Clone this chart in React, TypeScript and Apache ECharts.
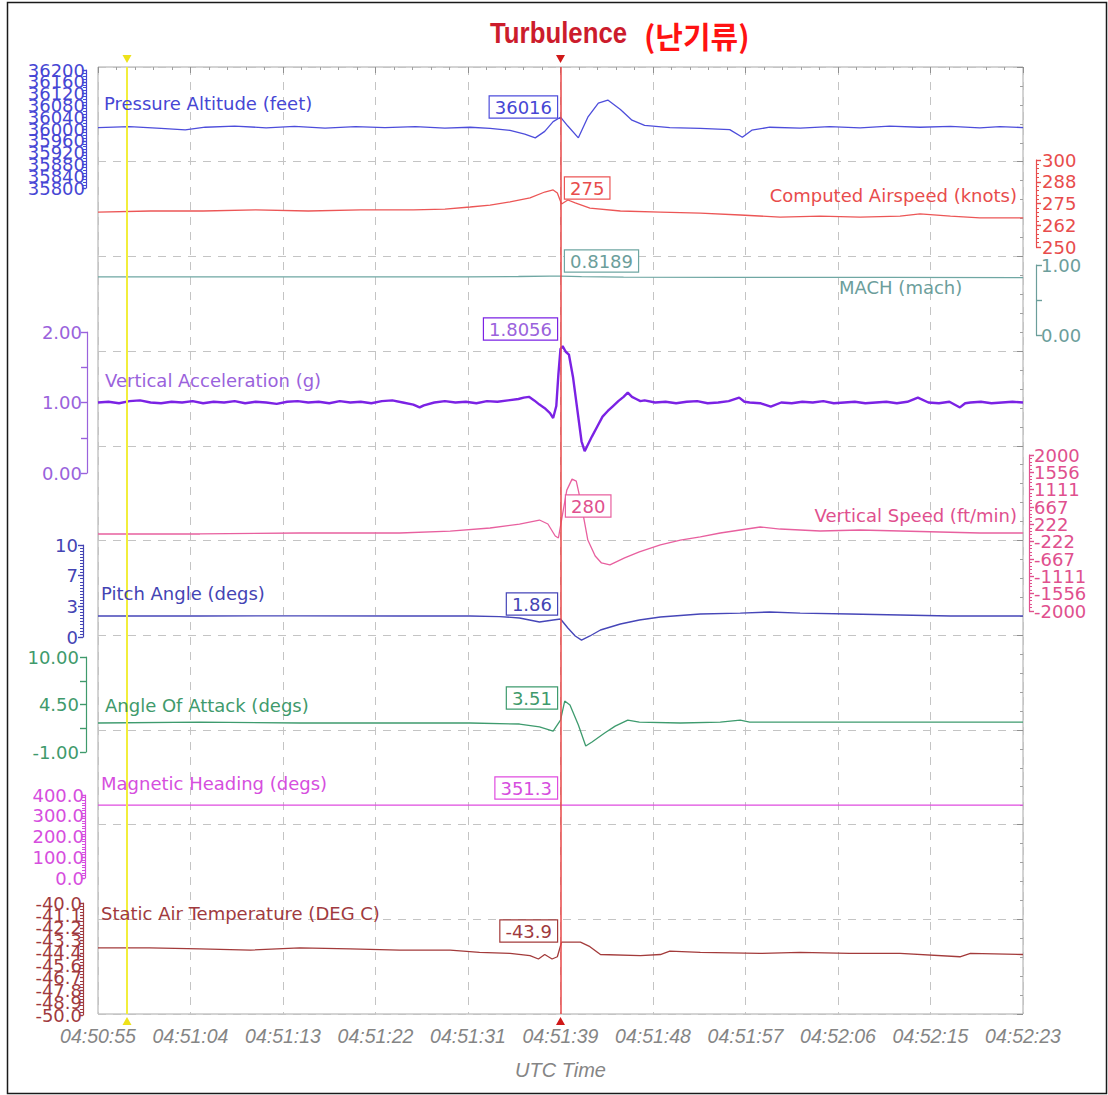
import React, { useEffect, useRef } from "react";
import * as echarts from "echarts";

// ---------- time axis ----------
const TIME_LABELS = ["04:50:55", "04:51:04", "04:51:13", "04:51:22", "04:51:31", "04:51:39", "04:51:48", "04:51:57", "04:52:06", "04:52:15", "04:52:23"];
const T_MAX = 88;
const T_STEP = 8.8;
const CURSOR_T = 44;
const MARKER_T = 2.76;

// ---------- tick labels ----------
const altTicks = ["35800", "35840", "35880", "35920", "35960", "36000", "36040", "36080", "36120", "36160", "36200"];
const casTicks = ["250", "262", "275", "288", "300"];
const machTicks = ["0.00", "", "1.00"];
const accTicks = ["0.00", "", "1.00", "", "2.00"];
const vsTicks = ["-2000", "-1556", "-1111", "-667", "-222", "222", "667", "1111", "1556", "2000"];
const pitchTicks = ["0", "3", "7", "10"];
const aoaTicks = ["-1.00", "", "4.50", "", "10.00"];
const hdgTicks = ["0.0", "100.0", "200.0", "300.0", "400.0"];
const satTicks = ["-50.0", "-48.9", "-47.8", "-46.7", "-45.6", "-44.4", "-43.3", "-42.2", "-41.1", "-40.0"];

// ---------- series data (time in s from 04:50:55) ----------
const altT = [0, 3, 6, 8.3, 10.2, 13, 16, 18.7, 21.6, 24.5, 27.3, 30.2, 33, 35.4, 37.3, 39.2, 40.6, 41.6, 42.5, 43.3, 44, 44.7, 45.7, 46.6, 47.6, 48.5, 49.7, 50.8, 52, 54.4, 57.3, 60.1, 61.3, 62.2, 63.9, 66.8, 69.6, 72.5, 75.3, 78.2, 81.1, 83.9, 85.8, 88];
const altV = [36005, 36008, 36002, 35997, 36006, 36010, 36004, 36009, 36003, 36008, 36005, 36008, 36003, 36006, 36002, 35995, 35983, 35970, 35992, 36025, 36040, 36010, 35970, 36040, 36088, 36098, 36066, 36030, 36012, 36005, 36002, 35998, 35972, 35996, 36006, 36003, 36008, 36004, 36010, 36006, 36009, 36004, 36008, 36005];

const casT = [0, 5, 10, 15, 20, 25, 30, 33, 35.4, 37.3, 39.2, 41.1, 42.5, 43.3, 43.7, 44.1, 44.7, 45.4, 46.8, 49.7, 53.5, 57.3, 61.1, 64.9, 68.7, 72.5, 76.3, 78.2, 81.1, 83.9, 88];
const casV = [270.1, 270.7, 270.7, 271.3, 270.7, 271.3, 271.3, 271.8, 273.0, 274.1, 275.9, 278.2, 281.6, 282.8, 281.0, 274.7, 277.0, 275.3, 272.4, 270.7, 270.1, 269.5, 268.4, 267.2, 267.8, 267.2, 267.8, 269.0, 267.8, 266.7, 266.7];

const machT = [0, 20, 35, 40, 43, 44, 46, 50, 60, 75, 88];
const machV = [0.829, 0.83, 0.831, 0.836, 0.842, 0.84, 0.833, 0.828, 0.824, 0.822, 0.82];

const accT = [0, 1, 2, 3, 4, 5, 6, 7, 8, 9, 10, 11, 12, 13, 14, 15, 16, 17, 18, 19, 20, 21, 22, 23, 24, 25, 26, 27, 28, 29, 30, 30.6, 31, 32, 33, 34, 35, 36, 37, 38, 39, 40,
  40.5, 41, 41.5, 42, 42.5, 43, 43.3, 43.6, 43.8, 44, 44.2, 44.5, 44.8, 45.2, 45.6, 46, 46.3, 46.6, 47, 47.5, 48, 48.5, 49, 49.5, 50, 50.4, 50.8, 51.2, 51.6, 52,
  53, 54, 55, 56, 57, 58, 59, 60, 61, 61.5, 62, 63, 64, 65, 66, 67, 68, 69, 70, 71, 72, 73, 74, 75, 76, 77, 78, 79, 80, 81, 82, 82.5, 83, 84, 85, 86, 87, 88];
const accV = [1.0, 1.01, 0.99, 1.02, 1.03, 1.0, 0.99, 1.01, 1.0, 1.02, 0.99, 1.01, 1.0, 1.02, 0.99, 1.01, 1.0, 0.98, 1.01, 1.02, 1.0, 1.01, 0.99, 1.02, 1.0, 1.01, 0.99, 1.02, 1.03, 1.0, 0.97, 0.93, 0.96, 1.0, 1.02, 1.0, 1.01, 0.99, 1.02, 1.01, 1.03, 1.05,
  1.07, 1.08, 1.03, 0.97, 0.92, 0.85, 0.78, 0.95, 1.4, 1.76, 1.8, 1.72, 1.68, 1.35, 0.9, 0.45, 0.31, 0.4, 0.52, 0.66, 0.8, 0.88, 0.95, 1.02, 1.08, 1.14, 1.08, 1.05, 1.02, 1.03,
  1.0, 1.01, 0.99, 1.01, 1.02, 0.99, 1.0, 1.02, 1.07, 1.01, 1.0, 0.99, 0.94, 1.0, 0.99, 1.01, 1.0, 1.02, 0.99, 1.0, 1.01, 0.99, 1.0, 1.01, 0.99, 1.01, 1.07, 1.0, 0.99, 1.01, 0.93, 0.99, 1.0, 1.01, 0.99, 1.0, 1.01, 1.0];

const vsT = [0, 9.7, 19.2, 28.7, 33.5, 37.3, 40.1, 42, 42.8, 43.5, 43.8, 44.1, 44.6, 45.1, 45.5, 45.9, 46.6, 47.3, 47.9, 48.7, 50.1, 51.5, 53.5, 55.4, 57.3, 59.2, 61.1, 63, 64.9, 68.7, 72.5, 76.3, 80.1, 83.9, 88];
const vsV = [-25, -25, 0, 0, 50, 128, 230, 333, 230, -77, -128, 333, 1100, 1382, 1330, 845, -180, -589, -768, -819, -640, -486, -307, -180, -102, 0, 77, 154, 102, 51, 77, 51, 26, 0, 0];

const pitchT = [0, 9.7, 19.2, 28.7, 35.4, 38.2, 40.1, 42, 43.3, 44, 44.7, 45.4, 46, 46.8, 47.8, 49.7, 51.5, 53.5, 57.3, 61.1, 63.9, 66.8, 71.5, 76.3, 81.1, 88];
const pitchV = [2.28, 2.28, 2.3, 2.28, 2.28, 2.22, 2.07, 1.63, 1.85, 1.96, 0.98, 0.11, -0.33, 0.11, 0.76, 1.41, 1.85, 2.17, 2.5, 2.6, 2.72, 2.6, 2.5, 2.39, 2.28, 2.28];

const aoaT = [0, 9.7, 19.2, 28.7, 35.4, 40.1, 42, 43.3, 44, 44.4, 44.9, 45.7, 46.4, 47, 48.2, 49.2, 50.4, 51.5, 55.4, 59.2, 61.1, 62, 66.8, 76.3, 88];
const aoaV = [2.36, 2.47, 2.36, 2.36, 2.36, 2.24, 1.9, 1.43, 2.7, 4.9, 4.44, 2.13, -0.31, 0.16, 1.2, 2.0, 2.7, 2.47, 2.36, 2.47, 2.7, 2.47, 2.47, 2.47, 2.47];

const hdgT = [0, 30, 44, 60, 88];
const hdgV = [351.4, 351.3, 351.3, 351.3, 351.2];

const satT = [0, 4.9, 9.7, 14.5, 19.2, 24, 28.7, 33.5, 36.3, 39.2, 41.1, 41.9, 42.5, 43.2, 43.7, 44.1, 45.9, 46.8, 47.8, 51.6, 53.5, 54.4, 57.3, 63, 66.8, 71.5, 76.3, 82, 83, 88];
const satV = [-44.0, -44.0, -44.1, -44.2, -44.0, -44.1, -44.2, -44.2, -44.4, -44.5, -44.7, -45.0, -44.6, -45.0, -44.8, -43.5, -43.5, -43.9, -44.6, -44.7, -44.6, -44.3, -44.4, -44.5, -44.4, -44.5, -44.5, -44.8, -44.5, -44.6];

// cursor readouts at the turbulence cursor
const readouts = ["36016", "275", "0.8189", "1.8056", "280", "1.86", "3.51", "351.3", "-43.9"];
const seriesNames = ["Pressure Altitude (feet)", "Computed Airspeed (knots)", "MACH (mach)", "Vertical Acceleration (g)", "Vertical Speed (ft/min)", "Pitch Angle (degs)", "Angle Of Attack (degs)", "Magnetic Heading (degs)", "Static Air Temperature (DEG C)"];

// ---------- layout / style ----------
const W = 1108;
const H = 1095;
const LEFT = 98;
const RIGHT = W - 1023;
const TOP = 67;
const BOTTOM = H - 1014;
const FONT = "'DejaVu Sans', Verdana, sans-serif";

type Panel = {
  t: number[]; v: number[]; ticks: string[]; min: number; max: number; interval: number; minor: number;
  side: "left" | "right"; offset: number; tickLen: number; margin: number; top: number; height: number; line: string; text: string; width: number;
  nameX: number; nameY: number; nameAlign: "left" | "right"; boxX: number; boxY: number; boxAlign: "left" | "right";
};

const PANELS: Panel[] = [
  { t: altT, v: altV, ticks: altTicks, min: 35800, max: 36200, interval: 40, minor: 4, side: "left", offset: 12, tickLen: 4, margin: 1, top: 70, height: 118, line: "#4d4ddb", text: "#4646d4", width: 1.3, nameX: 104, nameY: 103, nameAlign: "left", boxX: 557, boxY: 107, boxAlign: "right" },
  { t: casT, v: casV, ticks: casTicks, min: 250, max: 300, interval: 12.5, minor: 5, side: "right", offset: 13, tickLen: 5, margin: 6, top: 160, height: 87, line: "#ec5656", text: "#e84c4c", width: 1.3, nameX: 1017, nameY: 195, nameAlign: "right", boxX: 565, boxY: 188, boxAlign: "left" },
  { t: machT, v: machV, ticks: machTicks, min: 0, max: 1, interval: 0.5, minor: 0, side: "right", offset: 13, tickLen: 6, margin: 5, top: 265, height: 70, line: "#6fa7a3", text: "#6c9e9b", width: 1.3, nameX: 839, nameY: 287, nameAlign: "left", boxX: 565, boxY: 261, boxAlign: "left" },
  { t: accT, v: accV, ticks: accTicks, min: 0, max: 2, interval: 0.5, minor: 0, side: "left", offset: 11, tickLen: 6, margin: 5, top: 332, height: 141, line: "#7b22e4", text: "#9a62dc", width: 2.4, nameX: 105, nameY: 380, nameAlign: "left", boxX: 557, boxY: 329, boxAlign: "right" },
  { t: vsT, v: vsV, ticks: vsTicks, min: -2000, max: 2000, interval: 4000 / 9, minor: 5, side: "right", offset: 6, tickLen: 5, margin: 5, top: 455, height: 156, line: "#e8609f", text: "#e0508e", width: 1.3, nameX: 1017, nameY: 515, nameAlign: "right", boxX: 566, boxY: 506, boxAlign: "left" },
  { t: pitchT, v: pitchV, ticks: pitchTicks, min: 0, max: 10, interval: 10 / 3, minor: 10, side: "left", offset: 15, tickLen: 5, margin: 5, top: 545, height: 92, line: "#4646b8", text: "#4444b4", width: 1.4, nameX: 101, nameY: 593, nameAlign: "left", boxX: 557, boxY: 604, boxAlign: "right" },
  { t: aoaT, v: aoaV, ticks: aoaTicks, min: -1, max: 10, interval: 2.75, minor: 0, side: "left", offset: 12, tickLen: 6, margin: 7, top: 657, height: 95, line: "#3e9b6e", text: "#3f9a6c", width: 1.3, nameX: 105, nameY: 705, nameAlign: "left", boxX: 557, boxY: 698, boxAlign: "right" },
  { t: hdgT, v: hdgV, ticks: hdgTicks, min: 0, max: 400, interval: 100, minor: 8, side: "left", offset: 13, tickLen: 3, margin: 1, top: 795, height: 83, line: "#e04ce0", text: "#d64ede", width: 1.3, nameX: 101, nameY: 783, nameAlign: "left", boxX: 557, boxY: 788, boxAlign: "right" },
  { t: satT, v: satV, ticks: satTicks, min: -50, max: -40, interval: 10 / 9, minor: 4, side: "left", offset: 15, tickLen: 3, margin: 1, top: 903, height: 112, line: "#a33b3b", text: "#a03a3e", width: 1.3, nameX: 101, nameY: 913, nameAlign: "left", boxX: 557, boxY: 931, boxAlign: "right" },
];

function buildOption() {
  const gridDash = { color: "#c4c4c4", width: 1, type: [8, 7] as number[] };
  const grids: any[] = [{ left: LEFT, right: RIGHT, top: TOP, bottom: BOTTOM, show: true, borderColor: "#a8a8a8", borderWidth: 1, backgroundColor: "transparent" }];
  const xAxes: any[] = [
    {
      gridIndex: 0, type: "value", position: "bottom", min: 0, max: T_MAX, interval: T_STEP,
      axisLine: { show: false, onZero: false }, axisTick: { show: false },
      axisLabel: {
        color: "#858585", fontStyle: "italic", fontFamily: "'Liberation Sans', Arial, sans-serif", fontSize: 19.5, margin: 12,
        showMinLabel: true, showMaxLabel: true,
        formatter: (v: number) => TIME_LABELS[Math.round(v / T_STEP)] ?? "",
      },
      splitLine: { show: true, lineStyle: gridDash },
      name: "UTC Time", nameLocation: "middle", nameGap: 46,
      nameTextStyle: { color: "#858585", fontStyle: "italic", fontFamily: "'Liberation Sans', Arial, sans-serif", fontSize: 20 },
    },
    {
      gridIndex: 0, type: "value", position: "top", min: 0, max: T_MAX, interval: T_STEP,
      axisLine: { show: false, onZero: false },
      axisTick: { show: true, inside: true, length: 6, lineStyle: { color: "#909090" } },
      minorTick: { show: true, splitNumber: 5, length: 3, lineStyle: { color: "#a0a0a0" } },
      axisLabel: { show: false }, splitLine: { show: false },
    },
  ];
  const yAxes: any[] = [
    {
      gridIndex: 0, type: "value", min: 0, max: 10, interval: 1, position: "left",
      axisLine: { show: false, onZero: false }, axisTick: { show: false }, axisLabel: { show: false },
      splitLine: { show: true, lineStyle: gridDash },
    },
    {
      gridIndex: 0, type: "value", min: 0, max: 10, interval: 1, position: "right",
      axisLine: { show: false, onZero: false },
      axisTick: { show: true, inside: true, length: 6, lineStyle: { color: "#909090" } },
      minorTick: { show: true, splitNumber: 5, length: 3, lineStyle: { color: "#a0a0a0" } },
      axisLabel: { show: false }, splitLine: { show: false },
    },
  ];
  const series: any[] = [
    {
      type: "line", xAxisIndex: 0, yAxisIndex: 0, data: [], silent: true, z: 6,
      markLine: {
        symbol: "none", silent: true, animation: false, label: { show: false },
        data: [
          { xAxis: CURSOR_T, lineStyle: { color: "#e84848", width: 1.5, type: "solid" } },
          { xAxis: MARKER_T, lineStyle: { color: "#f2ee3c", width: 2, type: "solid" } },
        ],
      },
      markPoint: {
        silent: true, animation: false, label: { show: false },
        data: [
          { coord: [CURSOR_T, 10], symbol: "triangle", symbolSize: [9, 8], symbolRotate: 180, symbolOffset: [0, -8], itemStyle: { color: "#d01818" } },
          { coord: [CURSOR_T, 0], symbol: "triangle", symbolSize: [9, 8], symbolOffset: [0, 7], itemStyle: { color: "#d01818" } },
          { coord: [MARKER_T, 10], symbol: "triangle", symbolSize: [9, 8], symbolRotate: 180, symbolOffset: [0, -8], itemStyle: { color: "#eee21a" } },
          { coord: [MARKER_T, 0], symbol: "triangle", symbolSize: [9, 8], symbolOffset: [0, 7], itemStyle: { color: "#eee21a" } },
        ],
      },
    },
  ];
  const graphics: any[] = [
    { type: "rect", shape: { x: 7.5, y: 2.5, width: W - 9, height: H - 4 }, style: { fill: "none", stroke: "#1a1a1a", lineWidth: 1.5 }, silent: true, z: 0 },
    { type: "text", x: 490, y: 33, scaleX: 0.86, style: { text: "Turbulence", fill: "#cc1c2c", font: "bold 30px 'Liberation Sans', Arial, sans-serif", verticalAlign: "middle", align: "left" }, z: 50 },
    { type: "text", x: 644, y: 35, style: { text: "(난기류)", fill: "#ff1212", font: "bold 30px 'Noto Sans CJK KR', sans-serif", verticalAlign: "middle", align: "left" }, z: 50 },
  ];

  PANELS.forEach((p, i) => {
    const gi = i + 1;
    const xi = xAxes.length;
    grids.push({ left: LEFT, right: RIGHT, top: p.top, height: p.height, show: false });
    xAxes.push({ gridIndex: gi, type: "value", min: 0, max: T_MAX, show: false, axisLine: { onZero: false } });
    const labelFor = (parity: number) => (v: number) => {
      const k = Math.round((v - p.min) / p.interval);
      return k % 2 === parity ? p.ticks[k] ?? "" : "";
    };
    const baseLabel = { color: p.text, fontSize: 18, fontFamily: FONT, margin: p.margin, showMinLabel: true, showMaxLabel: true, hideOverlap: false };
    const tick = { show: true, length: p.tickLen, lineStyle: { color: p.text, width: 1.2 } };
    const yi = yAxes.length;
    // main axis: line, ticks and the even-indexed labels
    yAxes.push({
      gridIndex: gi, type: "value", position: p.side, offset: p.offset, min: p.min, max: p.max, interval: p.interval,
      axisLine: { show: true, onZero: false, lineStyle: { color: p.text, width: 1.2 } },
      axisTick: tick,
      minorTick: { show: p.minor > 0, splitNumber: p.minor || 5, length: 3, lineStyle: { color: p.text } },
      axisLabel: { ...baseLabel, formatter: labelFor(0) },
      splitLine: { show: false }, minorSplitLine: { show: false },
    });
    // companion axis: odd-indexed labels only (so crowded labels all stay visible)
    yAxes.push({
      gridIndex: gi, type: "value", position: p.side, offset: p.offset, min: p.min, max: p.max, interval: p.interval,
      axisLine: { show: false, onZero: false },
      axisTick: tick,
      axisLabel: { ...baseLabel, formatter: labelFor(1) },
      splitLine: { show: false },
    });
    series.push({
      type: "line", xAxisIndex: xi, yAxisIndex: yi, silent: true, clip: false,
      showSymbol: false, symbol: "none", z: 3,
      lineStyle: { color: p.line, width: p.width },
      data: p.t.map((tt, j) => [tt, p.v[j]]),
    });
    graphics.push({
      type: "text", x: p.nameX, y: p.nameY, z: 40,
      style: { text: seriesNames[i], fill: p.text, font: `18px ${FONT}`, align: p.nameAlign, verticalAlign: "middle" },
    });
    graphics.push({
      type: "text", x: p.boxX, y: p.boxY, z: 60,
      style: {
        text: readouts[i], fill: p.text, font: `18px ${FONT}`, align: p.boxAlign, verticalAlign: "middle",
        backgroundColor: "#ffffff", borderColor: p.line, borderWidth: 1.2, padding: [2, 5, 1, 5],
      },
    });
  });

  return {
    animation: false,
    backgroundColor: "#ffffff",
    grid: grids,
    xAxis: xAxes,
    yAxis: yAxes,
    series,
    graphic: graphics,
  };
}

export default function App() {
  const ref = useRef<HTMLDivElement>(null);
  useEffect(() => {
    if (!ref.current) return;
    const chart = echarts.init(ref.current, null, { renderer: "svg" });
    chart.setOption(buildOption() as any);
    return () => chart.dispose();
  }, []);
  return <div ref={ref} style={{ position: "absolute", left: 0, top: 0, width: W, height: H, background: "#fff" }} />;
}
